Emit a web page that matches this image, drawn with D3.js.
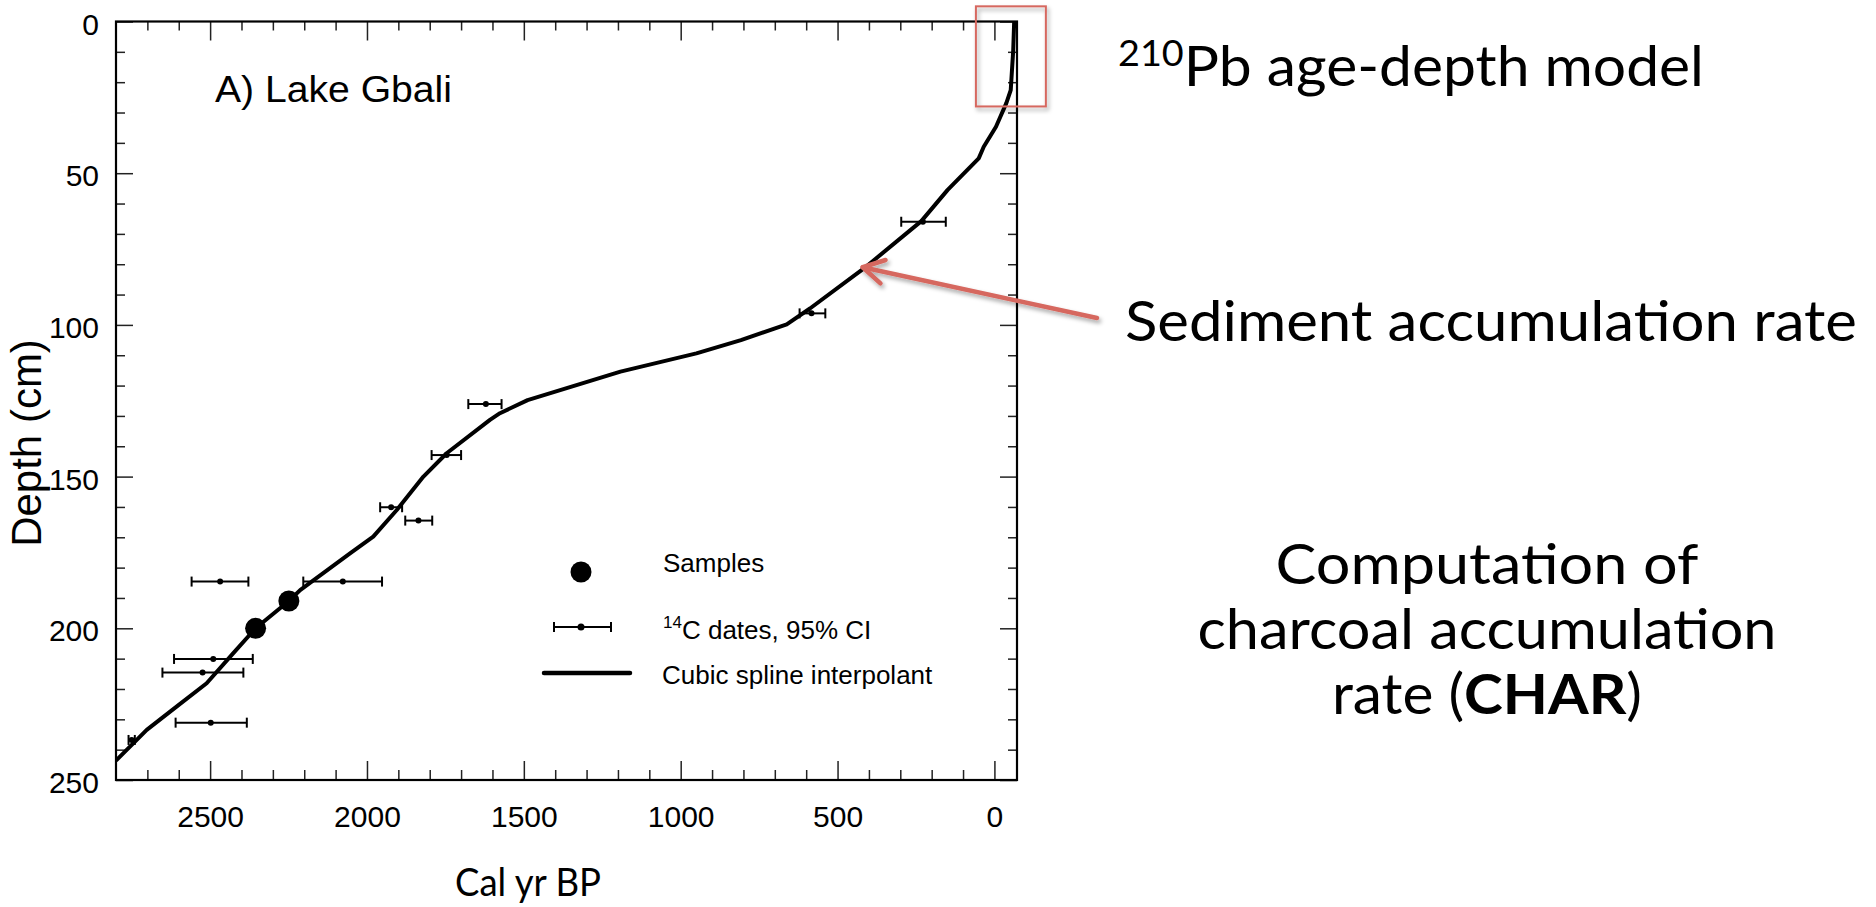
<!DOCTYPE html>
<html>
<head>
<meta charset="utf-8">
<script src="https://cdn.jsdelivr.net/npm/d3@7"></script>
<style>
  html, body { margin: 0; padding: 0; background: #fff; }
  svg { display: block; }
  .fig  { font-family: "Liberation Sans", Arial, sans-serif; fill: #000; }
  .slide { font-family: Lato, "Open Sans", sans-serif; fill: #000; }
</style>
</head>
<body>
<svg id="chart"></svg>
<script>
/* ------------ DATA --------------------------------------------------- */
// age-depth spline (cal yr BP / depth cm)
const splineAge   = [-63, -60, -52, -38, -5, 34, 50, 149, 233, 416, 588, 662, 808, 950, 1192, 1488, 1576, 1608, 1746, 1820, 1905, 1980, 2054, 2213, 2249, 2355, 2426, 2511, 2607, 2702, 2793, 2800];
const splineDepth = [0, 9.4, 22.6, 26.9, 34.7, 41.3, 45.1, 55.5, 65.8, 81.4, 94.6, 99.8, 105, 109.4, 115.4, 124.8, 129.1, 131.3, 142.3, 150, 161, 169.8, 175.3, 187.4, 191, 200, 208.2, 218.1, 225.8, 233.5, 242.9, 243.6];

// 14C dates: median age, 95% CI, depth
const c14Depth = [66, 96.2, 126.1, 142.9, 160.1, 164.5, 184.6, 184.6, 210.1, 214.6, 231.1, 236.8];
const c14Age   = [228, 583, 1621, 1746, 1923, 1836, 2468, 2077, 2490, 2524, 2498, 2750];
const c14Lo    = [155, 539, 1571, 1700, 1888, 1792, 2378, 1952, 2364, 2394, 2383, 2740];
const c14Hi    = [297, 621, 1677, 1794, 1958, 1878, 2559, 2203, 2615, 2652, 2610, 2760];

// samples
const sampleAge   = [2249, 2355];
const sampleDepth = [191, 200];

// ticks
const xMajor = [2500, 2000, 1500, 1000, 500, 0];
const xMinor = d3.range(100, 2800, 100).filter(v => v % 500);
const yMajor = [0, 50, 100, 150, 200, 250];
const yMinor = d3.range(10, 250, 10).filter(v => v % 50);

// annotations (data units)
const boxAge = [59, -164], boxDepth = [-5, 28];
const arrowTip = [420, 81];

/* ------------ SVG ---------------------------------------------------- */
const W = 1876, H = 907;
const plot = { left: 116, right: 1017, top: 21.5, bottom: 780 };

const svg = d3.select('#chart').attr('width', W).attr('height', H);

const defs = svg.append('defs');
defs.append('clipPath').attr('id', 'clip')
  .append('rect')
  .attr('x', plot.left).attr('y', plot.top)
  .attr('width', plot.right - plot.left).attr('height', plot.bottom - plot.top);

defs.append('filter').attr('id', 'shadow')
  .attr('x', '-20%').attr('y', '-20%').attr('width', '140%').attr('height', '140%')
  .append('feDropShadow')
  .attr('dx', 2).attr('dy', 3).attr('stdDeviation', 2)
  .attr('flood-color', '#000').attr('flood-opacity', 0.35);

const x = d3.scaleLinear().domain([2800, -72]).range([plot.left, plot.right]);
const y = d3.scaleLinear().domain([0, 250]).range([plot.top, plot.bottom]);

/* ------------ AXES (inward ticks on all four sides) ------------------ */
function ticks(axis, tr, vals, len) {
  const g = svg.append('g')
    .attr('transform', tr)
    .call(axis.tickValues(vals).tickSize(len).tickFormat(''));
  g.select('.domain').remove();
  g.selectAll('line').attr('stroke', '#222').attr('stroke-width', 1.5);
}
ticks(d3.axisTop(x),    `translate(0,${plot.bottom})`, xMinor, 10);
ticks(d3.axisTop(x),    `translate(0,${plot.bottom})`, xMajor, 19);
ticks(d3.axisBottom(x), `translate(0,${plot.top})`,    xMinor, 9);
ticks(d3.axisBottom(x), `translate(0,${plot.top})`,    xMajor, 19);
ticks(d3.axisRight(y),  `translate(${plot.left},0)`,   yMinor, 9);
ticks(d3.axisRight(y),  `translate(${plot.left},0)`,   yMajor, 17);
ticks(d3.axisLeft(y),   `translate(${plot.right},0)`,  yMinor, 9);
ticks(d3.axisLeft(y),   `translate(${plot.right},0)`,  yMajor, 17);

// tick labels
const xLab = svg.append('g')
  .attr('class', 'fig')
  .attr('transform', `translate(0,${plot.bottom})`)
  .call(d3.axisBottom(x).tickValues(xMajor).tickSize(0).tickPadding(26).tickFormat(d3.format('d')));
xLab.select('.domain').remove();
xLab.selectAll('text').attr('font-size', 30).attr('font-family', '"Liberation Sans", Arial, sans-serif');

const yLab = svg.append('g')
  .attr('class', 'fig')
  .attr('transform', `translate(${plot.left},0)`)
  .call(d3.axisLeft(y).tickValues(yMajor).tickSize(0).tickPadding(17));
yLab.select('.domain').remove();
yLab.selectAll('text').attr('font-size', 30).attr('dy', '0.42em')
  .attr('font-family', '"Liberation Sans", Arial, sans-serif');

// frame
svg.append('rect')
  .attr('x', plot.left).attr('y', plot.top)
  .attr('width', plot.right - plot.left).attr('height', plot.bottom - plot.top)
  .attr('fill', 'none').attr('stroke', '#000').attr('stroke-width', 2.2);

/* ------------ MARKS -------------------------------------------------- */
const marks = svg.append('g').attr('clip-path', 'url(#clip)');

const spline = splineAge.map((a, i) => [a, splineDepth[i]]);
marks.append('path')
  .datum(spline)
  .attr('d', d3.line().x(d => x(d[0])).y(d => y(d[1])))
  .attr('fill', 'none').attr('stroke', '#000').attr('stroke-width', 4)
  .attr('stroke-linejoin', 'round');

const dates = c14Depth.map((d, i) => ({ d, age: c14Age[i], lo: c14Lo[i], hi: c14Hi[i] }));
const eb = marks.selectAll('g.eb').data(dates).join('g').attr('class', 'eb');
eb.append('line')
  .attr('x1', d => x(d.lo)).attr('x2', d => x(d.hi))
  .attr('y1', d => y(d.d)).attr('y2', d => y(d.d));
eb.append('line')
  .attr('x1', d => x(d.lo)).attr('x2', d => x(d.lo))
  .attr('y1', d => y(d.d) - 5).attr('y2', d => y(d.d) + 5);
eb.append('line')
  .attr('x1', d => x(d.hi)).attr('x2', d => x(d.hi))
  .attr('y1', d => y(d.d) - 5).attr('y2', d => y(d.d) + 5);
eb.selectAll('line').attr('stroke', '#000').attr('stroke-width', 2);
eb.append('circle')
  .attr('cx', d => x(d.age)).attr('cy', d => y(d.d)).attr('r', 3);

marks.selectAll('circle.sample')
  .data(sampleAge.map((a, i) => [a, sampleDepth[i]]))
  .join('circle').attr('class', 'sample')
  .attr('cx', d => x(d[0])).attr('cy', d => y(d[1])).attr('r', 10.5);

/* ------------ PANEL TEXT & LEGEND ------------------------------------ */
svg.append('text').attr('class', 'fig')
  .attr('x', 215).attr('y', 102)
  .attr('font-size', 36).attr('textLength', 237).attr('lengthAdjust', 'spacingAndGlyphs')
  .text('A) Lake Gbali');

const leg = svg.append('g').attr('class', 'fig').attr('font-size', 26);
leg.append('circle').attr('cx', 581).attr('cy', 572).attr('r', 10.5);
leg.append('text').attr('x', 663).attr('y', 572).text('Samples');

leg.append('line').attr('x1', 554).attr('x2', 611).attr('y1', 627).attr('y2', 627);
leg.append('line').attr('x1', 554).attr('x2', 554).attr('y1', 622).attr('y2', 632);
leg.append('line').attr('x1', 611).attr('x2', 611).attr('y1', 622).attr('y2', 632);
leg.selectAll('line').attr('stroke', '#000').attr('stroke-width', 2);
leg.append('circle').attr('cx', 581).attr('cy', 627).attr('r', 3.5);
const c14t = leg.append('text').attr('x', 663).attr('y', 639);
c14t.append('tspan').attr('font-size', 17).attr('dy', -11).text('14');
c14t.append('tspan').attr('dy', 11).text('C dates, 95% CI');

leg.append('line').attr('x1', 544).attr('x2', 630).attr('y1', 673).attr('y2', 673)
  .attr('stroke', '#000').attr('stroke-width', 4.5).attr('stroke-linecap', 'round');
leg.append('text').attr('x', 662).attr('y', 684).text('Cubic spline interpolant');

// axis titles
svg.append('text').attr('class', 'fig')
  .attr('transform', 'translate(41,443) rotate(-90)')
  .attr('text-anchor', 'middle').attr('font-size', 42)
  .text('Depth (cm)');

svg.append('text').attr('class', 'slide')
  .attr('x', 528).attr('y', 896).attr('text-anchor', 'middle')
  .attr('font-size', 38).attr('textLength', 146).attr('lengthAdjust', 'spacingAndGlyphs')
  .text('Cal yr BP');

/* ------------ ANNOTATIONS -------------------------------------------- */
const red = '#d6675f';

svg.append('rect')
  .attr('x', x(boxAge[0])).attr('y', y(boxDepth[0]))
  .attr('width', x(boxAge[1]) - x(boxAge[0])).attr('height', y(boxDepth[1]) - y(boxDepth[0]))
  .attr('fill', 'none').attr('stroke', red).attr('stroke-width', 2)
  .attr('filter', 'url(#shadow)');

const tip = [x(arrowTip[0]), y(arrowTip[1])];
const tail = [1097, 318];
const ang = Math.atan2(tail[1] - tip[1], tail[0] - tip[0]);
const arm = a => [tip[0] + 24 * Math.cos(ang + a), tip[1] + 24 * Math.sin(ang + a)];
const arrow = svg.append('g').attr('filter', 'url(#shadow)')
  .attr('stroke', red).attr('stroke-width', 4.5).attr('stroke-linecap', 'round')
  .attr('stroke-linejoin', 'round').attr('fill', 'none');
arrow.append('path').attr('d', d3.line()([tail, tip]));
arrow.append('path').attr('d', d3.line()([arm(-0.52), tip, arm(0.52)]));

/* ------------ SLIDE TEXT --------------------------------------------- */
const title = svg.append('text').attr('class', 'slide')
  .attr('x', 1118).attr('y', 86).attr('font-size', 56)
  .attr('textLength', 586).attr('lengthAdjust', 'spacingAndGlyphs');
title.append('tspan').attr('font-size', 36).attr('dy', -20).text('210');
title.append('tspan').attr('dy', 20).text('Pb age-depth model');

svg.append('text').attr('class', 'slide')
  .attr('x', 1125).attr('y', 341).attr('font-size', 56)
  .attr('textLength', 732).attr('lengthAdjust', 'spacingAndGlyphs')
  .text('Sediment accumulation rate');

const block = [
  { t: 'Computation of', w: 423 },
  { t: 'charcoal accumulation', w: 579 }
];
block.forEach((b, i) => {
  svg.append('text').attr('class', 'slide')
    .attr('x', 1487).attr('y', 584 + i * 65).attr('font-size', 56)
    .attr('text-anchor', 'middle')
    .attr('textLength', b.w).attr('lengthAdjust', 'spacingAndGlyphs')
    .text(b.t);
});
const last = svg.append('text').attr('class', 'slide')
  .attr('x', 1487).attr('y', 714).attr('font-size', 56)
  .attr('text-anchor', 'middle')
  .attr('textLength', 310).attr('lengthAdjust', 'spacingAndGlyphs');
last.append('tspan').text('rate (');
last.append('tspan').attr('font-weight', 'bold').text('CHAR');
last.append('tspan').text(')');
</script>
</body>
</html>
